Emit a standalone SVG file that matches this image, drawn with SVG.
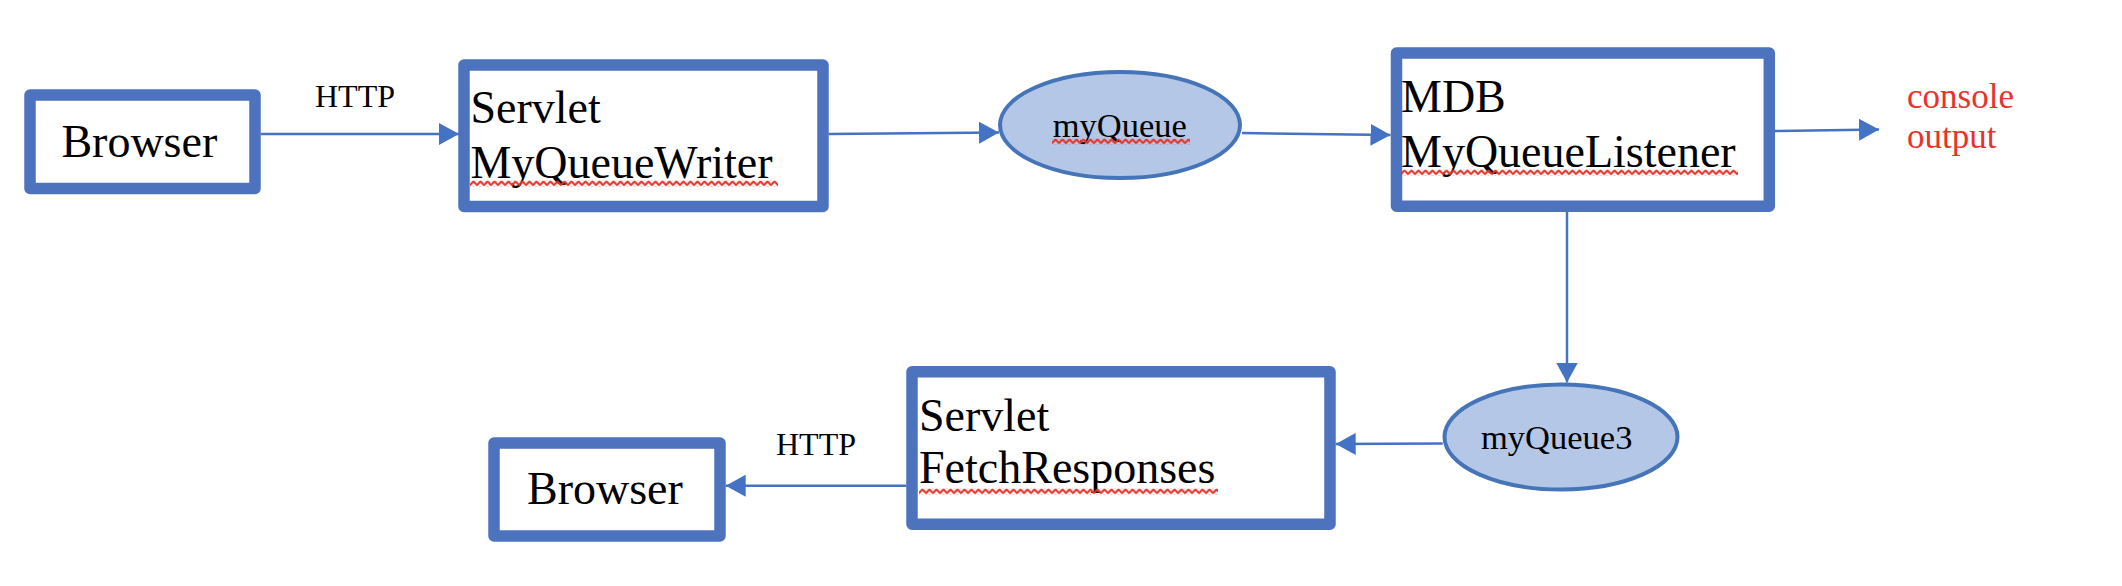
<svg xmlns="http://www.w3.org/2000/svg" width="2122" height="586" viewBox="0 0 2122 586">
<style>
.box{fill:#fff;stroke:#4E73BE;stroke-width:11.5;stroke-linejoin:round}
.q{fill:#B4C7E7;stroke:#4674B8;stroke-width:4}
.t{font-family:"Liberation Serif","Times New Roman",serif;fill:#000}
.big{font-size:46px}
.mid{font-size:34.5px}
.lbl{font-size:32px}
.red{fill:#E8332A;font-size:35px}
.c{stroke:#4472C4;stroke-width:2.5;fill:none;marker-end:url(#ah)}
</style>
<defs>
<marker id="ah" markerUnits="userSpaceOnUse" markerWidth="21" markerHeight="22" refX="20" refY="11" orient="auto" viewBox="0 0 21 22">
<path d="M0,0 L20,11 L0,22 z" fill="#4472C4"/>
</marker>
<pattern id="sq" width="7" height="6" patternUnits="userSpaceOnUse">
<path d="M-0.5,5 L3.5,1 L7.5,5" fill="none" stroke="#E3352A" stroke-width="2.2"/>
</pattern>
</defs>
<rect width="2122" height="586" fill="#fff"/>
<g id="connectors">
<line class="c" x1="260.7" y1="134" x2="459" y2="134"/>
<line class="c" x1="828.6" y1="134" x2="999" y2="132.5"/>
<line class="c" x1="1242" y1="133" x2="1390.5" y2="135"/>
<line class="c" x1="1775" y1="131" x2="1879" y2="129.5"/>
<line class="c" x1="1567" y1="212" x2="1567" y2="382.5"/>
<line class="c" x1="1442.7" y1="443.5" x2="1335.7" y2="444"/>
<line class="c" x1="906.4" y1="485.7" x2="725.7" y2="485.7"/>
</g>
<g id="label-http1"><text class="t lbl" x="315" y="106.7">HTTP</text></g>
<g id="label-http2"><text class="t lbl" x="776" y="455">HTTP</text></g>
<g id="browser1">
<rect class="box" x="30" y="95" width="225" height="93.5"/>
<text class="t big" x="61.4" y="156.7">Browser</text>
</g>
<g id="servlet-writer">
<rect class="box" x="464" y="65" width="359" height="141.5"/>
<text class="t big" x="470.4" y="123.3">Servlet</text>
<text class="t big" x="470.4" y="178.3">MyQueueWriter</text>
<g transform="translate(470,180.5)"><rect width="308" height="6" fill="url(#sq)"/></g>
</g>
<g id="myqueue">
<ellipse class="q" cx="1120" cy="125" rx="120" ry="53"/>
<text class="t mid" x="1052.7" y="137">myQueue</text>
<g transform="translate(1052,138.5)"><rect width="138" height="6" fill="url(#sq)"/></g>
</g>
<g id="mdb-listener">
<rect class="box" x="1396.5" y="53" width="372.8" height="153.3"/>
<text class="t big" x="1401" y="111.7">MDB</text>
<text class="t big" x="1401" y="166.7">MyQueueListener</text>
<g transform="translate(1401,169.5)"><rect width="337" height="6" fill="url(#sq)"/></g>
</g>
<g id="console-output">
<text class="t red" x="1907" y="108.3">console</text>
<text class="t red" x="1907" y="148.3">output</text>
</g>
<g id="myqueue3">
<ellipse class="q" cx="1561" cy="437" rx="116.5" ry="52.5"/>
<text class="t mid" x="1481" y="449">myQueue3</text>
</g>
<g id="servlet-fetch">
<rect class="box" x="912" y="371.7" width="418" height="152.6"/>
<text class="t big" x="919" y="430.7">Servlet</text>
<text class="t big" x="919" y="483.3">FetchResponses</text>
<g transform="translate(919,488.5)"><rect width="299" height="6" fill="url(#sq)"/></g>
</g>
<g id="browser2">
<rect class="box" x="494" y="443" width="226" height="93"/>
<text class="t big" x="527" y="504">Browser</text>
</g>
</svg>
